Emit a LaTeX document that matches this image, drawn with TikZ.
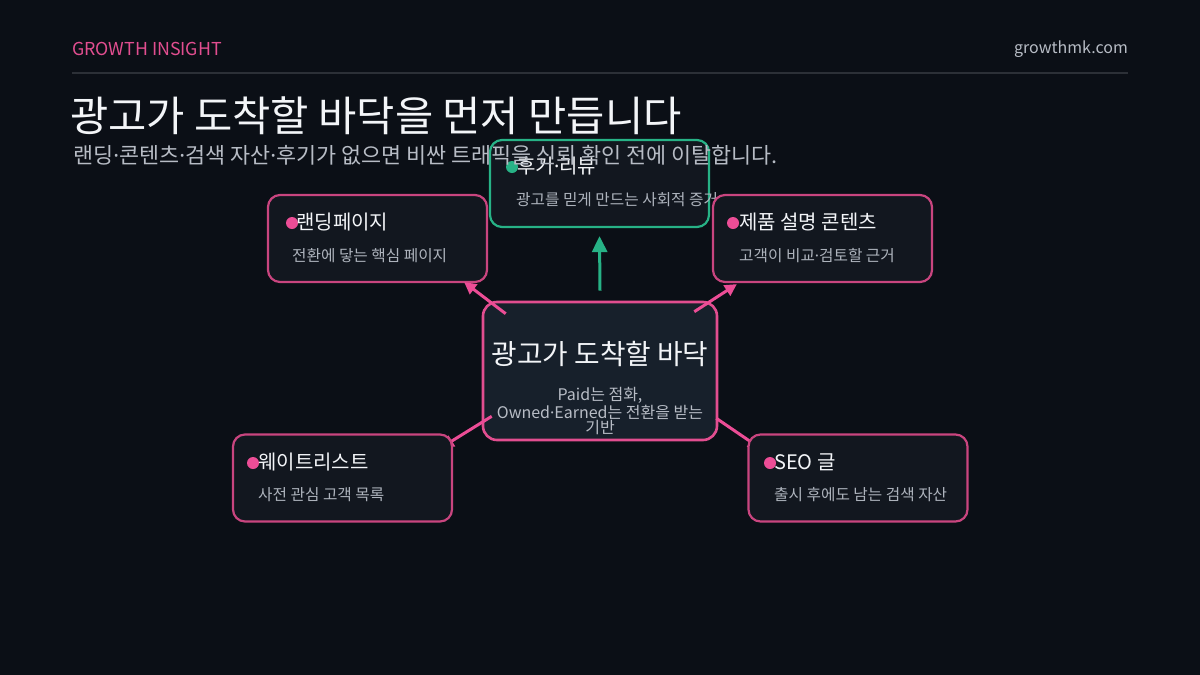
\documentclass[tikz,border=0pt]{standalone}
\usepackage{fontspec}
\setmainfont{Noto Sans CJK KR}
\newfontfamily\dotfont{Noto Sans}
\newcommand{\md}{{\dotfont ·}}
\usetikzlibrary{calc,arrows.meta}
\definecolor{bgc}{HTML}{0B0F16}
\definecolor{cardfill}{HTML}{12171F}
\definecolor{centerfill}{HTML}{17202B}
\definecolor{pinkb}{HTML}{C9457F}
\definecolor{pinkc}{HTML}{E24E90}
\definecolor{pinka}{HTML}{EC4D96}
\definecolor{tealc}{HTML}{27B286}
\definecolor{rulec}{HTML}{2C3037}
\definecolor{titlec}{HTML}{F3F5F8}
\definecolor{subc}{HTML}{B7BCC5}
\definecolor{smallc}{HTML}{ADB3BC}
\pgfdeclarelayer{lowest}
\pgfdeclarelayer{mid}
\pgfsetlayers{lowest,mid,main}
\tikzset{
  card/.style={draw=pinkb, line width=2.2pt, fill=cardfill, rounded corners=12pt,
    minimum width=219pt, minimum height=87pt, inner sep=0pt},
  tcard/.style={card, draw=tealc},
  ccard/.style={draw=pinkc, line width=2.6pt, fill=centerfill, rounded corners=14pt,
    minimum width=234pt, minimum height=138pt, inner sep=0pt},
  cardtitle/.style={anchor=west, inner sep=0pt, text=titlec, font=\fontsize{20}{22}\selectfont},
  cardsub/.style={anchor=west, inner sep=0pt, text=smallc, font=\fontsize{15.7}{17}\selectfont},
  dotp/.style={circle, fill=pinka, minimum size=12pt, inner sep=0pt},
  dott/.style={circle, fill=tealc, minimum size=12pt, inner sep=0pt},
  parr/.style={draw=pinka, line width=3pt, -{Triangle[length=12pt,width=12pt]}},
  tarr/.style={draw=tealc, line width=3pt, -{Triangle[length=16pt,width=15pt]}},
}
\begin{document}
\begin{tikzpicture}[x=1pt,y=-1pt]
\useasboundingbox (0,0) rectangle (1200,675);
\begin{pgfonlayer}{lowest}
\fill[bgc] (0,0) rectangle (1200,675);
\node[ccard] (c) at (600,371) {};
\node[anchor=center, inner sep=0pt, text=titlec, font=\fontsize{27.8}{30}\selectfont] (ct) at (600,354) {광고가 도착할 바닥};
\node[anchor=center, inner sep=0pt, text=subc, align=center, font=\fontsize{16}{15}\selectfont] (cs) at (600,411) {Paid는 점화,\\Owned\md Earned는 전환을 받는\\기반};
\end{pgfonlayer}

% header
\node[anchor=west, inner sep=0pt, text=pinkc, font=\fontsize{17.8}{19}\selectfont] (brand) at (72,49) {GROWTH INSIGHT};
\node[anchor=east, inner sep=0pt, text=subc, font=\fontsize{16}{18}\selectfont] (site) at (1128,49) {growthmk.com};
\coordinate (rl) at (72,73);
\coordinate (rr) at (1128,73);
\draw[rulec, line width=2.2pt] (rl) -- (rr);
\node[anchor=west, inner sep=0pt, text=titlec, font=\fontsize{41.6}{44}\selectfont] (title) at (70,116) {광고가 도착할 바닥을 먼저 만듭니다};

% cards
\node[tcard] (rev) at (599.5,183.5) {};
\node[dott] (revd) at (512,167) {};
\node[cardtitle] (revt) at (517,166) {후기\md 리뷰};
\node[cardsub] (revs) at (516,200) {광고를 믿게 만드는 사회적 증거};

\node[anchor=west, inner sep=0pt, text=subc, font=\fontsize{21.8}{24}\selectfont] (subtitle) at (73,155) {랜딩\md 콘텐츠\md 검색 자산\md 후기가 없으면 비싼 트래픽을 신뢰 확인 전에 이탈합니다.};

\node[card] (land) at (377.5,238.5) {};
\node[dotp] (landd) at (292,223) {};
\node[cardtitle] (landt) at (296,222) {랜딩페이지};
\node[cardsub] (lands) at (292,256) {전환에 닿는 핵심 페이지};

\node[card] (prod) at (822.5,238.5) {};
\node[dotp] (prodd) at (733,223) {};
\node[cardtitle] (prodt) at (739,222) {제품 설명 콘텐츠};
\node[cardsub] (prods) at (739,256) {고객이 비교\md 검토할 근거};

\begin{pgfonlayer}{mid}
\draw[parr] ($(c.south west)+(10,-25)$) -- ($(c.south west)+(-40,6)$);
\draw[parr] ($(c.south east)+(-2,-23)$) -- ($(c.south east)+(42,7)$);
\end{pgfonlayer}

\node[card] (wait) at (342.5,478) {};
\node[dotp] (waitd) at (253,463) {};
\node[cardtitle] (waitt) at (258,462) {웨이트리스트};
\node[cardsub] (waits) at (258,495) {사전 관심 고객 목록};

\node[card] (seo) at (858,478) {};
\node[dotp] (seod) at (770,463) {};
\node[cardtitle] (seot) at (774,462) {SEO 글};
\node[cardsub] (seos) at (774,495) {출시 후에도 남는 검색 자산};

% top arrows
\draw[tarr] ($(c.north)+(0,-10)$) -- ($(rev.south)+(0,8)$);
\draw[parr] ($(c.north west)+(24,13)$) -- ($(land.south east)+(-24,-1)$);
\draw[parr] ($(c.north east)+(-24,11)$) -- ($(prod.south west)+(25,1)$);
\end{tikzpicture}
\end{document}
